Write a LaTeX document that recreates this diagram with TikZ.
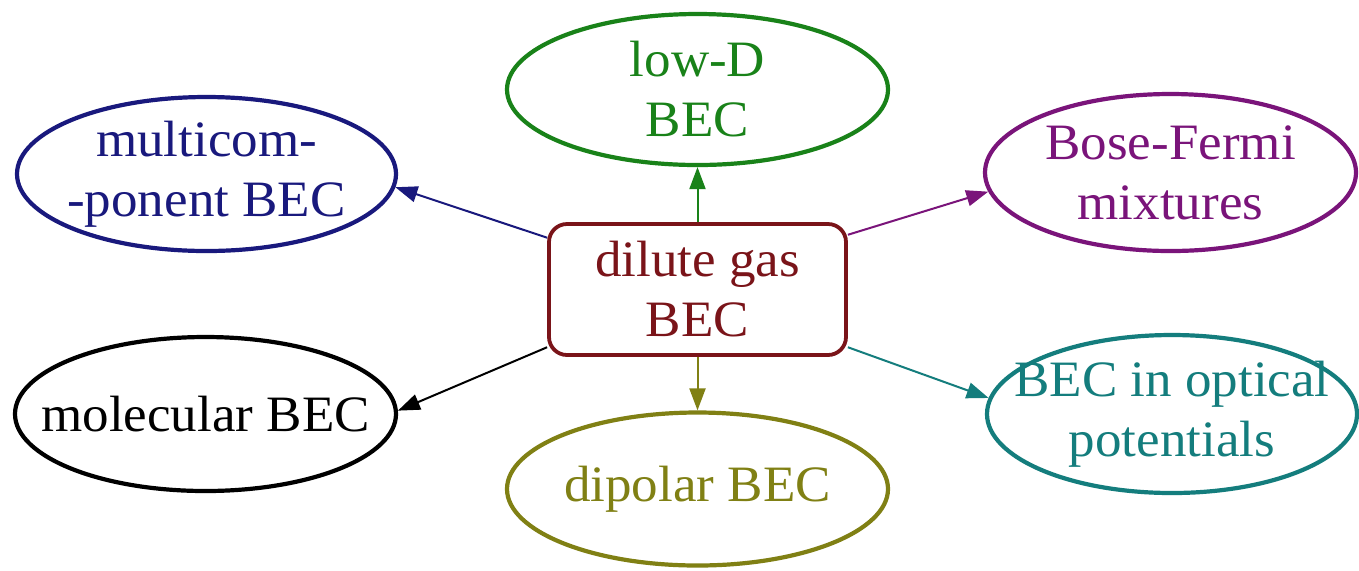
\documentclass[tikz,border=0pt]{standalone}
\usepackage{fontspec}
\setmainfont[FakeStretch=1.04]{Liberation Serif}
\usetikzlibrary{shapes.geometric,arrows.meta}
\definecolor{cnavy}{RGB}{25,25,125}
\definecolor{cgreen}{RGB}{25,130,25}
\definecolor{cpurple}{RGB}{122,20,122}
\definecolor{cdred}{RGB}{122,20,25}
\definecolor{colive}{RGB}{128,128,20}
\definecolor{cteal}{RGB}{20,125,125}
\tikzset{
  topic/.style={ellipse, draw=#1, text=#1, line width=2.1pt,
    inner xsep=-400pt, inner ysep=-300pt,
    align=center, font=\fontsize{25.5}{30}\selectfont},
  hub/.style={rectangle, rounded corners=9pt, draw=cdred, text=cdred, line width=1.9pt,
    inner sep=0pt, minimum width=148.5pt, minimum height=65.5pt,
    align=center, font=\fontsize{25.5}{30}\selectfont},
  link/.style={draw=#1, line width=1pt, -{Triangle[length=11pt,width=8pt]}}
}
\begin{document}
\begin{tikzpicture}[x=0.5pt,y=-0.5pt]
\fill[white] (0,0) rectangle (1359,570);
\useasboundingbox (0,0) rectangle (1359,570);
\node[hub] (c) at (697.5,289.5) {dilute gas\\BEC};
\node[topic=cgreen, minimum width=190.5pt, minimum height=75.5pt] (lowd) at (697.5,89.5) {low-D\\BEC};
\node[topic=cnavy, minimum width=189.5pt, minimum height=77pt] (multi) at (206.5,174) {multicom-\\-ponent BEC};
\node[topic=cpurple, minimum width=185.5pt, minimum height=78.5pt] (bf) at (1170.5,172.5) {Bose-Fermi\\mixtures};
\node[topic=black, minimum width=190.5pt, minimum height=77pt] (mol) at (205.5,414) {molecular BEC};
\node[topic=colive, minimum width=190.5pt, minimum height=76.5pt] (dip) at (697.5,489) {dipolar BEC};
\node[topic=cteal, minimum width=185pt, minimum height=79pt] (opt) at (1172,414) {BEC in optical\\potentials};
\draw[link=cgreen] (c.north) -- (lowd.south);
\draw[link=cnavy] (c.161) -- (multi.-4);
\draw[link=cpurple] (c.20.8) -- (bf.186.5);
\draw[link=black] (c.201) -- (mol.1.5);
\draw[link=colive] (c.south) -- (dip.north);
\draw[link=cteal] (c.-21) -- (opt.175.4);
\end{tikzpicture}
\end{document}
